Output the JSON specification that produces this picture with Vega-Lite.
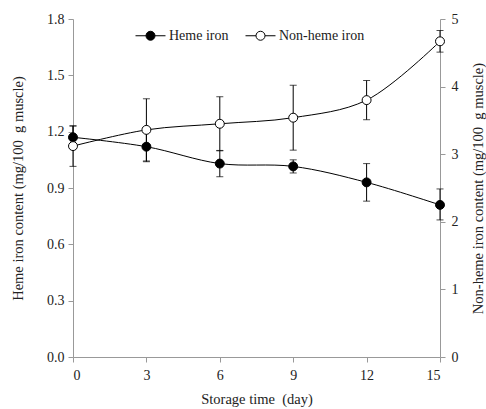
{
  "$schema": "https://vega.github.io/schema/vega-lite/v6.json",
  "width": 367,
  "height": 338,
  "autosize": "none",
  "padding": {"left": 73, "top": 19, "right": 46, "bottom": 52},
  "background": "white",
  "config": {
    "view": {"stroke": null},
    "font": "Liberation Serif",
    "axis": {
      "labelFont": "Liberation Serif",
      "titleFont": "Liberation Serif",
      "labelFontSize": 14,
      "titleFontSize": 14.5,
      "titleFontWeight": "normal",
      "labelColor": "#222",
      "titleColor": "#222",
      "domainColor": "#999",
      "tickColor": "#999",
      "tickSize": 5,
      "grid": false
    },
    "legend": {"labelFont": "Liberation Serif", "labelFontSize": 14, "labelColor": "#222"}
  },
  "data": {
    "values": [
      {"day": 0, "series": "Heme iron", "value": 1.17, "lo": 1.11, "hi": 1.23},
      {"day": 3, "series": "Heme iron", "value": 1.12, "lo": 1.04, "hi": 1.20},
      {"day": 6, "series": "Heme iron", "value": 1.03, "lo": 0.96, "hi": 1.10},
      {"day": 9, "series": "Heme iron", "value": 1.015, "lo": 0.98, "hi": 1.05},
      {"day": 12, "series": "Heme iron", "value": 0.93, "lo": 0.83, "hi": 1.03},
      {"day": 15, "series": "Heme iron", "value": 0.81, "lo": 0.73, "hi": 0.895},
      {"day": 0, "series": "Non-heme iron", "value": 3.12, "lo": 2.82, "hi": 3.42},
      {"day": 3, "series": "Non-heme iron", "value": 3.36, "lo": 2.9, "hi": 3.82},
      {"day": 6, "series": "Non-heme iron", "value": 3.45, "lo": 3.05, "hi": 3.85},
      {"day": 9, "series": "Non-heme iron", "value": 3.54, "lo": 3.06, "hi": 4.02},
      {"day": 12, "series": "Non-heme iron", "value": 3.8, "lo": 3.51, "hi": 4.09},
      {"day": 15, "series": "Non-heme iron", "value": 4.67, "lo": 4.51, "hi": 4.83}
    ]
  },
  "encoding": {
    "x": {
      "field": "day", "type": "quantitative",
      "scale": {"domain": [0, 15], "nice": false},
      "axis": {"values": [0, 3, 6, 9, 12, 15], "title": "Storage time\u00a0 (day)", "labelPadding": 6, "titlePadding": 10}
    }
  },
  "layer": [
    {
      "transform": [{"filter": "datum.series === 'Heme iron'"}],
      "encoding": {
        "y": {
          "field": "value", "type": "quantitative",
          "scale": {"domain": [0, 1.8], "nice": false},
          "axis": {"orient": "left", "values": [0, 0.3, 0.6, 0.9, 1.2, 1.5, 1.8], "format": ".1f", "title": "Heme iron content (mg/100\u00a0 g muscle)", "labelPadding": 4, "titlePadding": 21}
        }
      },
      "layer": [
        {"mark": {"type": "rule", "color": "black", "strokeWidth": 1}, "encoding": {"y": {"field": "lo", "type": "quantitative"}, "y2": {"field": "hi"}}},
        {"mark": {"type": "tick", "orient": "horizontal", "color": "black", "size": 7, "thickness": 1}, "encoding": {"y": {"field": "lo", "type": "quantitative"}}},
        {"mark": {"type": "tick", "orient": "horizontal", "color": "black", "size": 7, "thickness": 1}, "encoding": {"y": {"field": "hi", "type": "quantitative"}}},
        {"mark": {"type": "line", "color": "black", "strokeWidth": 1, "interpolate": "catmull-rom"}, "encoding": {}},
        {
          "mark": {"type": "point", "shape": "circle", "filled": true, "stroke": "black", "strokeWidth": 1, "size": 80, "opacity": 1},
          "encoding": {
            "fill": {
              "field": "series", "type": "nominal",
              "scale": {"domain": ["Heme iron", "Non-heme iron"], "range": ["black", "white"]},
              "legend": {
                "title": null, "orient": "none", "direction": "horizontal",
                "legendX": 62, "legendY": 1, "padding": 0,
                "symbolType": "M-1,0H-0.3M0.3,0H1M-0.3,0A0.3,0.3 0 1,1 0.3,0A0.3,0.3 0 1,1 -0.3,0Z",
                "symbolSize": 900, "symbolStrokeColor": "black", "symbolStrokeWidth": 1, "symbolOpacity": 1,
                "labelOffset": 3, "columnPadding": 14
              }
            }
          }
        }
      ]
    },
    {
      "transform": [{"filter": "datum.series === 'Non-heme iron'"}],
      "encoding": {
        "y": {
          "field": "value", "type": "quantitative",
          "scale": {"domain": [0, 5], "nice": false},
          "axis": {"orient": "right", "values": [0, 1, 2, 3, 4, 5], "title": "Non-heme iron content (mg/100\u00a0 g muscle)", "titleAngle": 270, "labelPadding": 6, "titlePadding": 27}
        }
      },
      "layer": [
        {"mark": {"type": "rule", "color": "black", "strokeWidth": 1}, "encoding": {"y": {"field": "lo", "type": "quantitative"}, "y2": {"field": "hi"}}},
        {"mark": {"type": "tick", "orient": "horizontal", "color": "black", "size": 7, "thickness": 1}, "encoding": {"y": {"field": "lo", "type": "quantitative"}}},
        {"mark": {"type": "tick", "orient": "horizontal", "color": "black", "size": 7, "thickness": 1}, "encoding": {"y": {"field": "hi", "type": "quantitative"}}},
        {"mark": {"type": "line", "color": "black", "strokeWidth": 1, "interpolate": "catmull-rom"}, "encoding": {}},
        {
          "mark": {"type": "point", "shape": "circle", "filled": true, "stroke": "black", "strokeWidth": 1, "size": 80, "opacity": 1},
          "encoding": {
            "fill": {"field": "series", "type": "nominal", "scale": {"domain": ["Heme iron", "Non-heme iron"], "range": ["black", "white"]}}
          }
        }
      ]
    }
  ],
  "resolve": {"scale": {"y": "independent"}}
}
